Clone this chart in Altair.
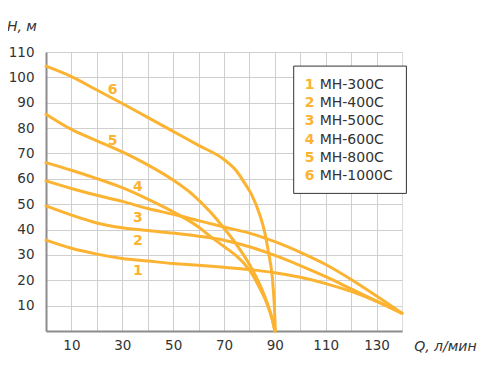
import altair as alt
import pandas as pd

models = ["MH-300C", "MH-400C", "MH-500C", "MH-600C", "MH-800C", "MH-1000C"]
nums = ["1", "2", "3", "4", "5", "6"]

q1 = [0, 10, 20, 30, 40, 50, 60, 70, 80, 90, 100, 110, 120, 130, 140]
h1 = [35.8, 32.6, 30.3, 28.6, 27.6, 26.6, 25.9, 25.1, 24.2, 23.0, 21.2, 18.7, 15.6, 11.7, 7.0]
q2 = [0, 10, 20, 30, 40, 50, 60, 70, 80, 90, 100, 110, 120, 130, 140]
h2 = [49.3, 45.7, 42.6, 40.7, 39.6, 38.6, 37.4, 35.8, 33.2, 29.8, 25.8, 21.4, 16.6, 11.8, 7.0]
q3 = [0, 10, 20, 30, 40, 50, 60, 70, 80, 90, 100, 110, 120, 130, 140]
h3 = [59.2, 56.2, 53.5, 51.1, 48.3, 46.0, 43.5, 41.0, 38.6, 35.2, 31.0, 26.2, 20.3, 13.8, 7.0]
q4 = [0, 10, 20, 30, 40, 50, 55, 60, 65, 70, 75, 78, 81, 84, 87, 89, 90]
h4 = [66.4, 63.4, 60.1, 56.5, 52.0, 47.0, 44.2, 41.0, 37.0, 33.3, 29.5, 26.5, 22.5, 17.0, 10.5, 4.5, 0.0]
q5 = [0, 10, 20, 30, 40, 50, 58, 65, 70, 75, 78, 81, 84, 87, 89, 90]
h5 = [85.5, 79.5, 75.0, 70.6, 65.5, 59.5, 53.5, 46.5, 40.5, 34.0, 29.5, 24.5, 18.5, 11.0, 4.5, 0.0]
q6 = [0, 10, 20, 30, 40, 50, 60, 70, 75, 78, 81, 84, 86, 87.5, 89, 89.8, 90.2]
h6 = [104.4, 100.3, 95.0, 89.7, 84.2, 78.7, 73.2, 67.6, 63.0, 58.5, 53.5, 46.0, 39.0, 31.0, 21.0, 10.0, 0.0]

label_q = [36.1, 36.1, 36.1, 36.1, 26.2, 26.2]
label_h = [23.6, 35.4, 44.5, 56.7, 74.8, 94.9]

ORANGE = "#FBB331"
FONT = "DejaVu Sans"
TEXT = "#333333"

rows = []
for m, qs, hs in zip(models, [q1, q2, q3, q4, q5, q6], [h1, h2, h3, h4, h5, h6]):
    for i, (q, h) in enumerate(zip(qs, hs)):
        rows.append({"model": m, "Q": q, "H": h, "order": i})
curves = pd.DataFrame(rows)

labels = pd.DataFrame({"num": nums, "Q": label_q, "H": label_h})
legend_df = pd.DataFrame({"num": nums, "name": models, "i": list(range(len(nums)))})

xscale = alt.Scale(domain=[0, 140], nice=False, zero=True)
yscale = alt.Scale(domain=[0, 110], nice=False, zero=True)

xaxis = alt.Axis(
    values=list(range(0, 131, 10)),
    labelExpr="datum.value % 20 == 10 ? datum.label : ''",
    labelOverlap=False,
    title="Q, л/мин",
    titleX=367.7, titleY=19.5, titleAlign="left", titleBaseline="alphabetic",
    titleFontStyle="italic", titleFontWeight="normal", titleFontSize=14,
    titleFont=FONT, titleColor=TEXT,
    grid=True, gridColor="#cfcfcf", gridWidth=1,
    domain=True, domainColor="#8c8c8c", domainWidth=2,
    ticks=False, tickSize=0, labelPadding=7,
    labelFont=FONT, labelFontSize=13.5, labelColor=TEXT,
)
yaxis = alt.Axis(
    values=list(range(10, 111, 10)),
    labelOverlap=False,
    title="H, м",
    titleX=-39.6, titleY=-22, titleAngle=0, titleAlign="left", titleBaseline="alphabetic",
    titleFontStyle="italic", titleFontWeight="normal", titleFontSize=14,
    titleFont=FONT, titleColor=TEXT,
    grid=True, gridColor="#cfcfcf", gridWidth=1,
    domain=True, domainColor="#8c8c8c", domainWidth=2,
    ticks=False, tickSize=0, labelPadding=12,
    labelFont=FONT, labelFontSize=13.5, labelColor=TEXT,
)

lines = alt.Chart(curves).mark_line(
    color=ORANGE, strokeWidth=3, interpolate="monotone", strokeCap="round"
).encode(
    x=alt.X("Q:Q", scale=xscale, axis=xaxis),
    y=alt.Y("H:Q", scale=yscale, axis=yaxis),
    detail="model:N",
    order="order:Q",
)

curve_labels = alt.Chart(labels).mark_text(
    color=ORANGE, font=FONT, fontSize=14, fontWeight="bold", baseline="middle", align="center"
).encode(
    x=alt.X("Q:Q", scale=xscale, axis=xaxis),
    y=alt.Y("H:Q", scale=yscale, axis=yaxis),
    text="num:N",
)

box = alt.Chart(pd.DataFrame({"a": [0]})).mark_rect(
    fill="white", stroke=TEXT, strokeWidth=1
).encode(
    x=alt.value(247.7), x2=alt.value(360.4), y=alt.value(14.1), y2=alt.value(141.4)
)

leg_base = alt.Chart(legend_df).transform_calculate(py="32.7 + 18.3 * datum.i")

leg_nums = leg_base.mark_text(
    color=ORANGE, font=FONT, fontSize=14, fontWeight="bold", align="center", baseline="middle"
).encode(
    x=alt.value(263.7),
    y=alt.Y("py:Q", scale=None),
    text="num:N",
)

leg_names = leg_base.mark_text(
    color=TEXT, font=FONT, fontSize=14, align="left", baseline="middle"
).encode(
    x=alt.value(273.7),
    y=alt.Y("py:Q", scale=None),
    text="name:N",
)

chart = alt.layer(lines, curve_labels, box, leg_nums, leg_names).properties(
    width=356, height=279,
    autosize=alt.AutoSizeParams(type="none"),
    padding={"left": 38, "top": 44, "right": 76, "bottom": 35},
).configure_view(stroke="transparent").configure(background="white")

chart.save("out.html", embed_options={"renderer": "svg", "actions": False})
